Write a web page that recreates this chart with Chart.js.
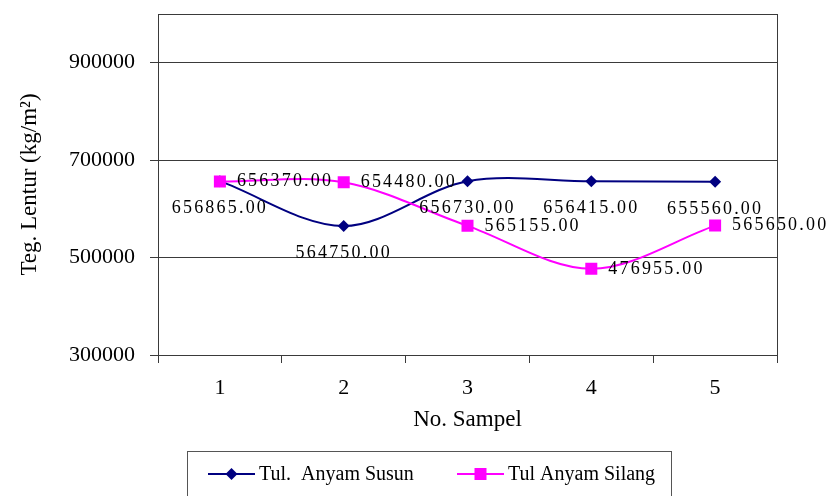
<!DOCTYPE html>
<html>
<head>
<meta charset="utf-8">
<title>Teg. Lentur</title>
<script src="https://cdn.jsdelivr.net/npm/chart.js@4/dist/chart.umd.min.js"></script>
<style>
  html, body { margin: 0; padding: 0; background: #ffffff; }
  canvas { display: block; }
</style>
</head>
<body>
<canvas id="c" width="830" height="496"></canvas>
<script>
// Sample numbers on the x axis
const categories = ['1', '2', '3', '4', '5'];
// Flexural stress per sample (kg/m²)
const anyamSusun = [656865, 564750, 656730, 656415, 655560];
const anyamSilang = [656370, 654480, 565155, 476955, 565650];
// Labelled y-axis values
const yTickValues = [300000, 500000, 700000, 900000];

const seriesNames = ['Tul.  Anyam Susun', 'Tul Anyam Silang'];
const NAVY = '#000080';
const MAGENTA = '#ff00ff';
const AXIS = '#3a3a3a';
const SERIF = '"Liberation Serif", "Times New Roman", serif';

// Value labels: below the diamonds, to the right of the squares
const valueLabels = {
  id: 'valueLabels',
  afterDatasetsDraw(chart) {
    const ctx = chart.ctx;
    ctx.save();
    ctx.font = '18px ' + SERIF;
    ctx.fillStyle = '#000';
    ctx.textBaseline = 'middle';
    if ('letterSpacing' in ctx) ctx.letterSpacing = '2.2px';
    chart.data.datasets.forEach((ds, di) => {
      const meta = chart.getDatasetMeta(di);
      meta.data.forEach((pt, i) => {
        const txt = ds.data[i].toFixed(2);
        if (ds.labelSide === 'below') {
          ctx.textAlign = 'center';
          ctx.fillText(txt, pt.x, pt.y + 27);
        } else {
          ctx.textAlign = 'left';
          ctx.fillText(txt, pt.x + 17, pt.y);
        }
      });
    });
    ctx.restore();
  }
};

// Closes the plot box and draws the framed legend underneath
const frameAndLegend = {
  id: 'frameAndLegend',
  afterDraw(chart) {
    const ctx = chart.ctx;
    const a = chart.chartArea;
    ctx.save();
    ctx.strokeStyle = AXIS;
    ctx.lineWidth = 1;
    ctx.strokeRect(Math.round(a.left) + 0.5, Math.round(a.top) + 0.5,
                   Math.round(a.right - a.left), Math.round(a.bottom - a.top));

    // legend frame
    ctx.strokeStyle = '#555';
    ctx.strokeRect(187.5, 451.5, 484, 60);

    const ly = 474;
    const items = [
      { x0: 208, x1: 255, color: NAVY, shape: 'diamond', tx: 259 },
      { x0: 457, x1: 504, color: MAGENTA, shape: 'square', tx: 508 }
    ];
    ctx.font = '20px ' + SERIF;
    ctx.textBaseline = 'middle';
    ctx.textAlign = 'left';
    items.forEach((it, k) => {
      ctx.strokeStyle = it.color;
      ctx.lineWidth = 2;
      ctx.beginPath();
      ctx.moveTo(it.x0, ly);
      ctx.lineTo(it.x1, ly);
      ctx.stroke();
      const cx = (it.x0 + it.x1) / 2;
      ctx.fillStyle = it.color;
      ctx.beginPath();
      if (it.shape === 'diamond') {
        ctx.moveTo(cx, ly - 6);
        ctx.lineTo(cx + 6, ly);
        ctx.lineTo(cx, ly + 6);
        ctx.lineTo(cx - 6, ly);
        ctx.closePath();
      } else {
        ctx.rect(cx - 6, ly - 6, 12, 12);
      }
      ctx.fill();
      ctx.fillStyle = '#000';
      ctx.fillText(seriesNames[k], it.tx, ly + 1);
    });
    ctx.restore();
  }
};

new Chart(document.getElementById('c'), {
  type: 'line',
  data: {
    labels: categories,
    datasets: [
      {
        label: seriesNames[0],
        data: anyamSusun,
        borderColor: NAVY,
        backgroundColor: NAVY,
        borderWidth: 2,
        pointStyle: 'rectRot',
        pointRadius: 6,
        pointBorderWidth: 0,
        tension: 0.33,
        order: 1,
        labelSide: 'below'
      },
      {
        label: seriesNames[1],
        data: anyamSilang,
        borderColor: MAGENTA,
        backgroundColor: MAGENTA,
        borderWidth: 2,
        pointStyle: 'rect',
        pointRadius: 8.5,
        pointBorderWidth: 0,
        tension: 0.33,
        order: 0,
        labelSide: 'right'
      }
    ]
  },
  options: {
    responsive: false,
    animation: false,
    devicePixelRatio: 1,
    layout: { padding: { left: 0, right: 53, top: 14, bottom: 56 } },
    plugins: {
      legend: { display: false },
      tooltip: { enabled: false }
    },
    scales: {
      x: {
        type: 'category',
        offset: true,
        grid: {
          offset: true,
          drawOnChartArea: false,
          drawTicks: true,
          tickLength: 8,
          color: AXIS,
          lineWidth: 1
        },
        border: { display: true, color: AXIS, width: 1 },
        ticks: {
          color: '#000',
          padding: 12,
          font: { family: SERIF, size: 22 }
        },
        title: {
          display: true,
          text: 'No. Sampel',
          color: '#000',
          font: { family: SERIF, size: 23 },
          padding: { top: 4, bottom: 6 }
        },
        afterFit(scale) {
          scale.height = 85;
          scale.paddingLeft = 0;
          scale.paddingRight = 0;
        }
      },
      y: {
        min: 300000,
        max: 1000000,
        ticks: {
          stepSize: 200000,
          color: '#000',
          padding: 15,
          font: { family: SERIF, size: 22 },
          callback: (v) => String(v)
        },
        afterBuildTicks(scale) {
          scale.ticks = yTickValues.map(v => ({ value: v }));
        },
        grid: {
          drawOnChartArea: true,
          drawTicks: true,
          tickLength: 8,
          color: AXIS,
          lineWidth: 1
        },
        border: { display: true, color: AXIS, width: 1 },
        title: {
          display: true,
          text: 'Teg. Lentur (kg/m²)',
          color: '#000',
          font: { family: SERIF, size: 23 },
          padding: { top: 16, bottom: 4 }
        },
        afterFit(scale) {
          scale.width = 158;
          scale.paddingTop = 0;
          scale.paddingBottom = 0;
        }
      }
    }
  },
  plugins: [valueLabels, frameAndLegend]
});
</script>
</body>
</html>
